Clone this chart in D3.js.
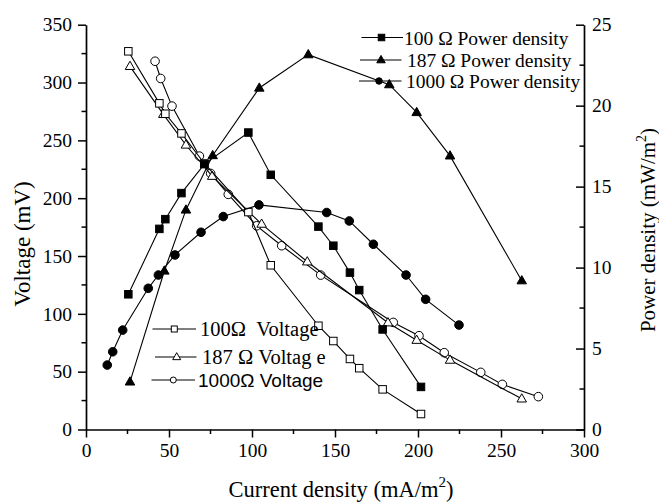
<!DOCTYPE html>
<html><head><meta charset="utf-8">
<script src="https://cdn.jsdelivr.net/npm/d3@7"></script>
<style>body{margin:0;background:#fff}svg{display:block}</style>
</head><body><svg id="c" width="659" height="502"></svg>
<script>
// ---- data ----
const xTicks = [0, 50, 100, 150, 200, 250, 300];
const yLeftTicks = [0, 50, 100, 150, 200, 250, 300, 350];
const yRightTicks = [0, 5, 10, 15, 20, 25];

const current100 = [25.5, 44.2, 47.8, 57.5, 71.3, 97.8, 111.3, 140, 149, 159, 164.6, 178.7, 201.8];
const voltage100 = [327, 282, 273, 256, 230, 188, 142, 89.7, 76.5, 61, 53, 34.7, 13.4];
const power100   = [8.35, 12.39, 12.99, 14.6, 16.39, 18.34, 15.73, 12.53, 11.35, 9.69, 8.61, 6.18, 2.63];

const current187V = [26.5, 46.6, 60.2, 76.0, 105.8, 133.3, 181.9, 199.2, 219.3, 262.5];
const voltage187  = [314, 272.5, 246, 219, 177.6, 145, 92.3, 77.2, 60, 26.5];
const current187P = [26.5, 47.2, 60.2, 76.3, 104.4, 133.9, 182.7, 199.2, 219.3, 262.5];
const power187    = [2.94, 9.79, 13.56, 16.92, 21.09, 23.15, 21.3, 19.58, 16.9, 9.19];

const current1000V = [41.6, 45, 51.8, 68.3, 75.1, 85.7, 102.8, 117.9, 141.4, 185.1, 200.6, 215.8, 237.8, 250.8, 272.5];
const voltage1000  = [318.4, 303.5, 279.6, 236.4, 221.4, 203.3, 176.1, 158.9, 133.5, 92.6, 81.1, 66.4, 49.4, 39, 28.4];
const current1000P = [12.8, 16.1, 22.1, 37.5, 43.6, 53.6, 69.3, 82.7, 104.2, 145, 158.6, 173.1, 192.8, 204.6, 224.7];
const power1000    = [3.98, 4.8, 6.14, 8.72, 9.54, 10.78, 12.18, 13.15, 13.87, 13.4, 12.88, 11.44, 9.54, 8.04, 6.45];

const powerLegend = ["100 Ω Power density", " 187 Ω Power density", " 1000 Ω Power density"];
const voltageLegend = ["100Ω  Voltage", "187 Ω Voltag e", "1000Ω Voltage"];

// ---- chart ----
const svg = d3.select("#c");
const serif = "'Liberation Serif','Times New Roman',serif";
const sans = "'Liberation Sans',Arial,sans-serif";

const x = d3.scaleLinear().domain([0, 300]).range([86, 584]);
const yL = d3.scaleLinear().domain([0, 350]).range([429.5, 24.7]);
const yR = d3.scaleLinear().domain([0, 25]).range([429.5, 24.7]);

function styleAxis(g) {
  g.selectAll("path.domain").attr("stroke", "#000").attr("stroke-width", 1.7);
  g.selectAll(".tick line").attr("stroke", "#000").attr("stroke-width", 1.5);
  g.selectAll("text").attr("font-family", serif).attr("font-size", 19.5).attr("fill", "#000");
}

// minor ticks
const minorX = d3.range(25, 300, 50);
const minorL = d3.range(25, 350, 50);
const minorR = d3.range(2.5, 25, 5);

const gx = svg.append("g").attr("transform", "translate(0,429.5)")
  .call(d3.axisBottom(x).tickValues(xTicks).tickSize(8).tickSizeOuter(0).tickPadding(6).tickFormat(d3.format("d")));
styleAxis(gx);
gx.selectAll(".minor").data(minorX).enter().append("line")
  .attr("x1", d => x(d)).attr("x2", d => x(d)).attr("y1", 0).attr("y2", 4.5)
  .attr("stroke", "#000").attr("stroke-width", 1.5);

const gl = svg.append("g").attr("transform", "translate(86,0)")
  .call(d3.axisLeft(yL).tickValues(yLeftTicks).tickSize(8).tickSizeOuter(0).tickPadding(6).tickFormat(d3.format("d")));
styleAxis(gl);
gl.selectAll(".minor").data(minorL).enter().append("line")
  .attr("y1", d => yL(d)).attr("y2", d => yL(d)).attr("x1", 0).attr("x2", -4.5)
  .attr("stroke", "#000").attr("stroke-width", 1.5);

const gr = svg.append("g").attr("transform", "translate(584,0)")
  .call(d3.axisRight(yR).tickValues(yRightTicks).tickSize(-8).tickSizeOuter(0).tickPadding(8).tickFormat(d3.format("d")));
styleAxis(gr);
gr.selectAll(".minor").data(minorR).enter().append("line")
  .attr("y1", d => yR(d)).attr("y2", d => yR(d)).attr("x1", 0).attr("x2", -4.5)
  .attr("stroke", "#000").attr("stroke-width", 1.5);

// axis titles
const xt = svg.append("text").attr("x", 341).attr("y", 497).attr("text-anchor", "middle")
  .attr("font-family", serif).attr("font-size", 22.5).text("Current density (mA/m");
xt.append("tspan").attr("font-size", 15).attr("dy", -10).text("2");
xt.append("tspan").attr("dy", 10).text(")");

svg.append("text").attr("transform", "translate(30,244) rotate(-90)").attr("text-anchor", "middle")
  .attr("font-family", serif).attr("font-size", 23).text("Voltage (mV)");

const rt = svg.append("text").attr("transform", "translate(655,230) rotate(-90)").attr("text-anchor", "middle")
  .attr("font-family", serif).attr("font-size", 21).text("Power density (mW/m");
rt.append("tspan").attr("font-size", 14).attr("dy", -9).text("2");
rt.append("tspan").attr("dy", 9).text(")");

// marker drawing
function marker(g, type, filled, cx, cy, s) {
  const fill = filled ? "#000" : "#fff";
  if (type === "square") {
    g.append("rect").attr("x", cx - s / 2).attr("y", cy - s / 2).attr("width", s).attr("height", s)
      .attr("fill", fill).attr("stroke", "#000").attr("stroke-width", 1);
  } else if (type === "circle") {
    g.append("circle").attr("cx", cx).attr("cy", cy).attr("r", s / 2)
      .attr("fill", fill).attr("stroke", "#000").attr("stroke-width", 1);
  } else {
    const h = s * 0.87;
    g.append("path").attr("d", `M${cx},${cy - h * 0.62}L${cx + s / 2},${cy + h * 0.38}L${cx - s / 2},${cy + h * 0.38}Z`)
      .attr("fill", fill).attr("stroke", "#000").attr("stroke-width", 1);
  }
}

function series(xs, ys, yScale, type, filled, size) {
  const pts = xs.map((d, i) => [x(d), yScale(ys[i])]);
  const g = svg.append("g");
  g.append("path").attr("d", d3.line()(pts)).attr("fill", "none").attr("stroke", "#000").attr("stroke-width", 1.1);
  pts.forEach(p => marker(g, type, filled, p[0], p[1], size));
}

series(current1000V, voltage1000, yL, "circle", false, 8.6);
series(current187V, voltage187, yL, "triangle", false, 9.5);
series(current100, voltage100, yL, "square", false, 7.5);
series(current1000P, power1000, yR, "circle", true, 8.6);
series(current187P, power187, yR, "triangle", true, 9.5);
series(current100, power100, yR, "square", true, 7.5);

// legends
const legTop = [
  {type: "square", y: 37.5, x1: 361.5, x2: 403, mx: 381.5, tx: 404},
  {type: "triangle", y: 60, x1: 360, x2: 401.5, mx: 381, tx: 402},
  {type: "circle", y: 81, x1: 359, x2: 401.5, mx: 379, tx: 401}
];
legTop.forEach((d, i) => {
  const g = svg.append("g");
  g.append("line").attr("x1", d.x1).attr("x2", d.x2).attr("y1", d.y).attr("y2", d.y).attr("stroke", "#000").attr("stroke-width", 1.2);
  marker(g, d.type, true, d.mx, d.y, d.type === "triangle" ? 8.5 : 6.5);
  g.append("text").attr("x", d.tx).attr("y", d.y + 7).attr("font-family", serif).attr("font-size", 19.5)
    .style("white-space", "pre").text(powerLegend[i]);
});

const legBot = [
  {type: "square", y: 329, x1: 152.5, x2: 196, mx: 174.3, tx: 200, font: serif, fs: 20.5},
  {type: "triangle", y: 357, x1: 155, x2: 196.5, mx: 176.7, tx: 202, font: serif, fs: 20.5},
  {type: "circle", y: 380, x1: 151.5, x2: 195, mx: 173.3, tx: 198, font: sans, fs: 19}
];
legBot.forEach((d, i) => {
  const g = svg.append("g");
  g.append("line").attr("x1", d.x1).attr("x2", d.x2).attr("y1", d.y).attr("y2", d.y).attr("stroke", "#000").attr("stroke-width", 1.2);
  marker(g, d.type, false, d.mx, d.y, d.type === "triangle" ? 8 : 6);
  g.append("text").attr("x", d.tx).attr("y", d.y + 7).attr("font-family", d.font).attr("font-size", d.fs)
    .style("white-space", "pre").text(voltageLegend[i]);
});
</script>
</body></html>
